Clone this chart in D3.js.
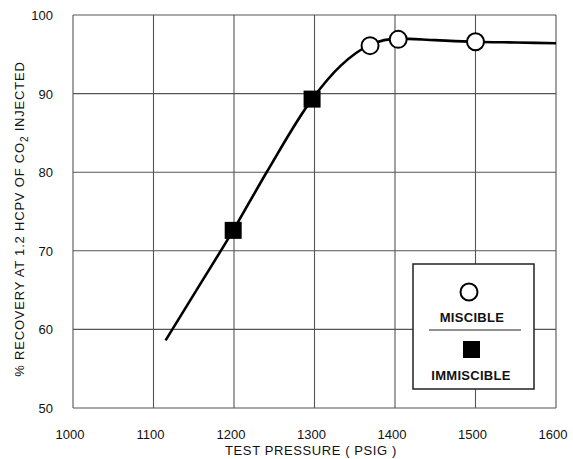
<!DOCTYPE html>
<html>
<head>
<meta charset="utf-8">
<script src="https://cdn.jsdelivr.net/npm/d3@7"></script>
<style>
  body { margin: 0; background: #fff; }
  text { font-family: "Liberation Sans", Arial, sans-serif; fill: #111; }
</style>
</head>
<body>
<svg id="chart" width="573" height="459"></svg>
<script>
// tick labels
const xTicks = [1000, 1100, 1200, 1300, 1400, 1500, 1600];
const yTicks = [50, 60, 70, 80, 90, 100];

// fitted curve
const curvePressure = [1115, 1154, 1199, 1240, 1297, 1332, 1369, 1404, 1450, 1500, 1550, 1600];
const curveRecovery = [58.6, 65.1, 72.6, 79.9, 89.3, 93.5, 96.2, 97.0, 96.8, 96.6, 96.5, 96.4];

// measured points
const miscibleP = [1369, 1404, 1500];
const miscibleR = [96.1, 96.9, 96.6];
const immiscibleP = [1199, 1297];
const immiscibleR = [72.6, 89.3];

function drawChart() {
  const margin = { top: 15, left: 73, right: 17, bottom: 51 };
  const width = 573 - margin.left - margin.right;
  const height = 459 - margin.top - margin.bottom;

  const svg = d3.select("#chart");
  const g = svg.append("g").attr("transform", `translate(${margin.left},${margin.top})`);

  const x = d3.scaleLinear().domain([1000, 1600]).range([0, width]);
  const y = d3.scaleLinear().domain([50, 100]).range([height, 0]);

  // grid
  g.selectAll(".vgrid").data(xTicks).enter().append("line")
    .attr("x1", d => x(d)).attr("x2", d => x(d))
    .attr("y1", 0).attr("y2", height)
    .attr("stroke", "#555").attr("stroke-width", 1.1);
  g.selectAll(".hgrid").data(yTicks).enter().append("line")
    .attr("x1", 0).attr("x2", width)
    .attr("y1", d => y(d)).attr("y2", d => y(d))
    .attr("stroke", "#555").attr("stroke-width", 1.1);

  // tick labels
  g.selectAll(".xl").data(xTicks).enter().append("text")
    .attr("x", d => x(d) - 3).attr("y", height + 31)
    .attr("text-anchor", "middle").attr("font-size", 13)
    .text(d => d);
  g.selectAll(".yl").data(yTicks).enter().append("text")
    .attr("x", -20).attr("y", d => y(d) + 5)
    .attr("text-anchor", "end").attr("font-size", 13)
    .text(d => d);

  // axis titles
  svg.append("text")
    .attr("x", 311).attr("y", 455)
    .attr("text-anchor", "middle").attr("font-size", 13)
    .attr("letter-spacing", 0.6)
    .text("TEST PRESSURE  ( PSIG )");

  const yt = svg.append("text")
    .attr("transform", "translate(24,219) rotate(-90)")
    .attr("text-anchor", "middle").attr("font-size", 13)
    .attr("letter-spacing", 0.8);
  yt.append("tspan").text("% RECOVERY AT 1.2 HCPV OF CO");
  yt.append("tspan").attr("font-size", 10).attr("dy", 4).text("2");
  yt.append("tspan").attr("dy", -4).text(" INJECTED");

  // curve
  const curveData = curvePressure.map((p, i) => ({ p, r: curveRecovery[i] }));
  const line = d3.line()
    .x(d => x(d.p))
    .y(d => y(d.r))
    .curve(d3.curveMonotoneX);
  g.append("path").datum(curveData)
    .attr("d", line)
    .attr("fill", "none").attr("stroke", "#000").attr("stroke-width", 2.6);

  // points
  const imm = immiscibleP.map((p, i) => ({ p, r: immiscibleR[i] }));
  g.selectAll(".sq").data(imm).enter().append("rect")
    .attr("x", d => x(d.p) - 8.5).attr("y", d => y(d.r) - 8.5)
    .attr("width", 17).attr("height", 17).attr("fill", "#000");

  const mis = miscibleP.map((p, i) => ({ p, r: miscibleR[i] }));
  g.selectAll(".ci").data(mis).enter().append("circle")
    .attr("cx", d => x(d.p)).attr("cy", d => y(d.r)).attr("r", 8.5)
    .attr("fill", "#fff").attr("stroke", "#000").attr("stroke-width", 2);

  // legend
  const lg = svg.append("g");
  lg.append("rect").attr("x", 413).attr("y", 264).attr("width", 121).attr("height", 125)
    .attr("fill", "#fff").attr("stroke", "#222").attr("stroke-width", 1.5);
  lg.append("circle").attr("cx", 469).attr("cy", 292).attr("r", 8.5)
    .attr("fill", "#fff").attr("stroke", "#000").attr("stroke-width", 2);
  lg.append("text").attr("x", 472).attr("y", 322).attr("text-anchor", "middle")
    .attr("font-size", 13).attr("font-weight", "bold").attr("letter-spacing", 0.3).text("MISCIBLE");
  lg.append("line").attr("x1", 429).attr("x2", 521).attr("y1", 330).attr("y2", 330)
    .attr("stroke", "#222").attr("stroke-width", 1.2);
  lg.append("rect").attr("x", 463).attr("y", 341).attr("width", 17).attr("height", 17).attr("fill", "#000");
  lg.append("text").attr("x", 471).attr("y", 380).attr("text-anchor", "middle")
    .attr("font-size", 13).attr("font-weight", "bold").attr("letter-spacing", 0.3).text("IMMISCIBLE");
}

drawChart();
</script>
</body>
</html>
